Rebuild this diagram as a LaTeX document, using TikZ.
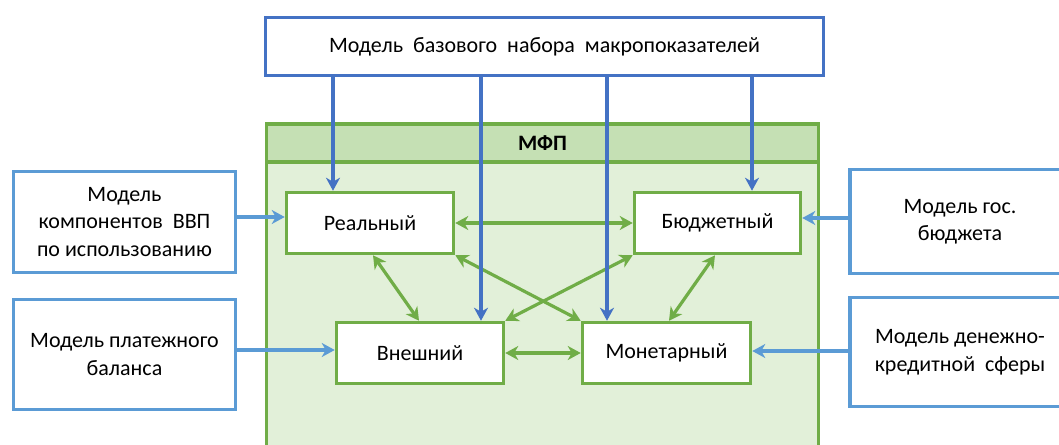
\documentclass[tikz,border=0pt]{standalone}
\usepackage{fontspec}
\setmainfont{Carlito}
\usetikzlibrary{arrows.meta,calc}
\definecolor{dblue}{HTML}{4472C4}
\definecolor{lblue}{HTML}{5B9BD5}
\definecolor{grn}{HTML}{70AD47}
\definecolor{hdr}{HTML}{C5E0B4}
\definecolor{bdy}{HTML}{E2F0D9}
\begin{document}
\begin{tikzpicture}[x=1pt,y=-1pt,
  txt/.style={font=\fontsize{22}{27.5}\selectfont,align=center,inner sep=0pt},
  mbox/.style={txt,draw=grn,line width=3.5pt,fill=white},
  ebox/.style={txt,draw=lblue,line width=3.5pt,fill=white},
  hd/.style={Stealth[length=13pt,width=14pt,inset=4pt]},
  garr/.style={draw=grn,line width=3.2pt,{Stealth[length=13pt,width=14pt,inset=4pt]}-{Stealth[length=13pt,width=14pt,inset=4pt]}},
  barr/.style={draw=dblue,line width=3.2pt,-{Stealth[length=13pt,width=14pt,inset=4pt]}},
  larr/.style={draw=lblue,line width=3.5pt,-{Stealth[length=13pt,width=14pt,inset=4pt]}}]
\useasboundingbox (0,0) rectangle (1059,444);
\clip (0,0) rectangle (1059,444);
% container
\node[draw=grn,line width=3.5pt,fill=bdy,minimum width=552pt,minimum height=340pt,inner sep=0pt] (mfp) at (542.5,294.5) {};
\node[draw=grn,line width=3.5pt,fill=hdr,minimum width=552pt,minimum height=38pt,inner sep=0pt,font=\fontsize{22}{24}\selectfont\bfseries] (hdr) at (542.5,143) {МФП};
% top box
\node[txt,draw=dblue,line width=3.5pt,fill=white,minimum width=558pt,minimum height=58pt] (top) at (544.5,46.5) {Модель\ \ базового\ \ набора\ \ макропоказателей};
% inner boxes
\node[mbox,minimum width=167pt,minimum height=61pt] (real) at (370,223) {Реальный};
\node[mbox,minimum width=166pt,minimum height=61pt] (bud) at (717.5,223) {Бюджетный};
\node[mbox,minimum width=167pt,minimum height=61pt] (ext) at (420,353) {Внешний};
\node[mbox,minimum width=168pt,minimum height=61pt] (mon) at (666.5,353) {Монетарный};
% outer boxes
\node[ebox,minimum width=222pt,minimum height=101pt] (l1) at (124.5,222) {Модель\\компонентов\ \ ВВП\\по использованию};
\node[ebox,minimum width=222pt,minimum height=110pt] (l2) at (124.5,354.5) {Модель платежного\\баланса};
\node[ebox,minimum width=220pt,minimum height=104pt] (r1) at (960,221.5) {Модель гос.\\бюджета};
\node[ebox,minimum width=220pt,minimum height=109pt] (r2) at (960,352) {Модель денежно-\\кредитной\ \ сферы};
% helper coordinates (x positions / y levels of connectors)
\coordinate (b1) at (333,0);
\coordinate (b2) at (481,0);
\coordinate (b3) at (607,0);
\coordinate (b4) at (752,0);
\coordinate (g1) at (373,0);
\coordinate (g2) at (419,0);
\coordinate (g3) at (715,0);
\coordinate (g4) at (669,0);
\coordinate (y1) at (0,217);
\coordinate (y2) at (0,350);
\coordinate (y3) at (0,218);
\coordinate (y4) at (0,351);
% green arrows
\draw[garr] (real.east) -- (bud.west);
\draw[garr] (real.south -| g1) -- (ext.north -| g2);
\draw[garr] (real.south east) -- (mon.north west);
\draw[garr] (ext.north east) -- (bud.south west);
\draw[garr] (bud.south -| g3) -- (mon.north -| g4);
\draw[garr] (ext.east) -- (mon.west);
% dark blue arrows
\draw[barr] (top.south -| b1) -- (real.north -| b1);
\draw[barr] (top.south -| b2) -- (ext.north -| b2);
\draw[barr] (top.south -| b3) -- (mon.north -| b3);
\draw[barr] (top.south -| b4) -- (bud.north -| b4);
% light blue arrows
\draw[larr] (l1.east |- y1) -- (real.west |- y1);
\draw[larr] (l2.east |- y2) -- (ext.west |- y2);
\draw[larr] (r1.west |- y3) -- (bud.east |- y3);
\draw[larr] (r2.west |- y4) -- (mon.east |- y4);
\end{tikzpicture}
\end{document}
